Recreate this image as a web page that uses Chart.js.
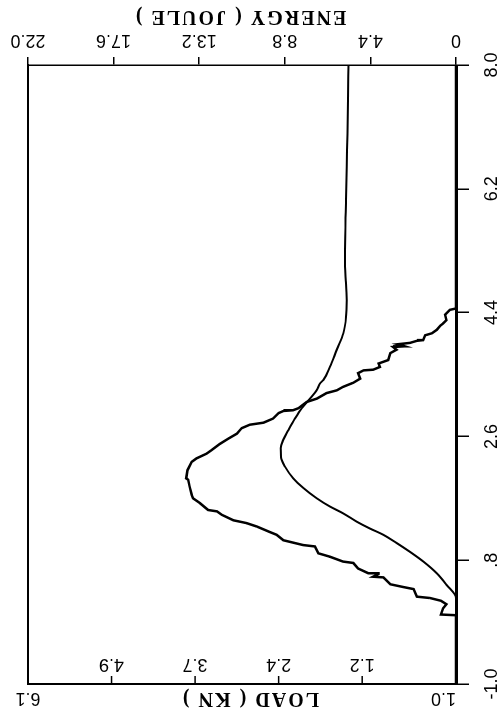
<!DOCTYPE html>
<html>
<head>
<meta charset="utf-8">
<script src="https://cdn.jsdelivr.net/npm/chart.js@4.4.0/dist/chart.umd.min.js"></script>
<style>
body { margin: 0; background: #fff; overflow: hidden; width: 501px; height: 717px; position: relative; }
/* o grafico e desenhado deitado e depois girado 90 graus */
#grafico { position: absolute; left: -108px; top: 108px; transform: rotate(-90deg); }
</style>
</head>
<body>
<canvas id="grafico" width="717" height="501"></canvas>
<script>
// curva de carga (KN) x tempo
const loadTime = [-1.0, 0.0, 0.01, 0.10, 0.16, 0.21, 0.25, 0.27, 0.38, 0.41, 0.45, 0.55, 0.56, 0.60, 0.61, 0.68, 0.76, 0.78, 0.85, 0.90,
  1.00, 1.02, 1.09, 1.17, 1.21, 1.29, 1.34, 1.38, 1.46, 1.51, 1.53, 1.63, 1.70, 1.75, 1.87, 1.97, 1.99, 2.11, 2.23, 2.28,
  2.35, 2.40, 2.49, 2.57, 2.64, 2.72, 2.77, 2.80, 2.86, 2.94, 2.97, 2.98, 3.01, 3.10, 3.15, 3.23, 3.27, 3.32, 3.38, 3.44,
  3.52, 3.56, 3.57, 3.61, 3.66, 3.71, 3.81, 3.86, 3.90, 3.91, 3.94, 3.96, 3.99, 4.00, 4.07, 4.10, 4.15, 4.21, 4.24, 4.29,
  4.37, 4.44, 4.46, 8.0];
const loadValue = [-0.15, -0.15, 0.07, 0.04, -0.01, 0.07, 0.23, 0.42, 0.47, 0.62, 0.81, 0.91, 1.06, 0.98, 1.13, 1.28, 1.35, 1.50, 1.69, 1.86,
  1.91, 2.08, 2.37, 2.47, 2.57, 2.76, 2.91, 3.10, 3.27, 3.34, 3.47, 3.59, 3.69, 3.71, 3.74, 3.76, 3.79, 3.77, 3.71, 3.64,
  3.49, 3.42, 3.30, 3.17, 3.05, 2.98, 2.86, 2.66, 2.52, 2.44, 2.37, 2.23, 2.15, 2.03, 1.88, 1.74, 1.59, 1.50, 1.35, 1.25,
  1.28, 1.20, 1.06, 0.96, 0.98, 0.84, 0.81, 0.72, 0.77, 0.60, 0.70, 0.52, 0.42, 0.33, 0.30, 0.20, 0.13, 0.08, 0.04, -0.01,
  0.01, -0.06, -0.15, -0.15];

// curva de energia (JOULE) x tempo
const energyTime = [-1.0, 0.25, 0.44, 0.61, 0.78, 0.92, 1.05, 1.17, 1.26, 1.36, 1.48, 1.58, 1.70, 1.85, 1.99, 2.16, 2.30, 2.43, 2.55,
  2.69, 2.86, 3.01, 3.15, 3.27, 3.37, 3.42, 3.61, 3.86, 4.10, 4.34, 4.58, 4.83, 5.07, 5.31, 6.04, 6.76, 7.49, 8.0];
const energyValue = [0, 0, 0.48, 0.99, 1.68, 2.36, 3.05, 3.74, 4.42, 5.10, 5.79, 6.48, 7.16, 7.85, 8.36, 8.79, 9.00, 9.01, 8.88,
  8.62, 8.28, 7.93, 7.50, 7.16, 6.99, 6.82, 6.48, 6.13, 5.79, 5.65, 5.62, 5.65, 5.71, 5.71, 5.65, 5.60, 5.55, 5.53];

// marcas dos eixos
const timeTicks = [-1.0, 0.8, 2.6, 4.4, 6.2, 8.0];
const timeLabels = ['-1.0', '.8', '2.6', '4.4', '6.2', '8.0'];
const loadTicks = [-0.15, 1.22, 2.44, 3.66, 4.88, 6.1];
const loadLabels = ['1.0', '1.2', '2.4', '3.7', '4.9', '6.1'];
const energyTicks = [0, 4.4, 8.8, 13.2, 17.6, 22.0];
const energyLabels = ['0', '4.4', '8.8', '13.2', '17.6', '22.0'];

const loadTitle = 'LOAD ( KN )';
const energyTitle = 'ENERGY ( JOULE )';

function pares(xs, ys) {
  return xs.map((x, i) => ({x: x, y: ys[i]}));
}

// textos e marcas que o Chart.js nao faz sozinho (rotulos da carga e titulos)
const textoExtra = {
  id: 'textoExtra',
  afterDraw(chart) {
    const ctx = chart.ctx;
    const yL = chart.scales.yL;
    const area = chart.chartArea;
    ctx.save();
    ctx.fillStyle = '#000';
    ctx.strokeStyle = '#000';
    ctx.lineWidth = 1.5;

    for (let i = 1; i < loadTicks.length - 1; i++) {
      const p = yL.getPixelForValue(loadTicks[i]);
      ctx.beginPath();
      ctx.moveTo(area.left, p);
      ctx.lineTo(area.left + 8, p);
      ctx.stroke();
    }

    ctx.font = '18px "Liberation Sans"';
    ctx.textBaseline = 'middle';
    loadTicks.forEach((v, i) => {
      const p = yL.getPixelForValue(v);
      let x = area.left + 20;
      let align = 'center';
      if (i == 0) { x = area.left - 14; align = 'left'; }
      if (i == loadTicks.length - 1) { x = area.left - 14; }
      ctx.save();
      ctx.translate(x, p);
      ctx.rotate(-Math.PI / 2);
      ctx.textAlign = align;
      ctx.fillText(loadLabels[i], 0, 0);
      ctx.restore();
    });

    const meio = (area.top + area.bottom) / 2;
    ctx.font = 'bold 20px "Liberation Serif"';
    ctx.letterSpacing = '2px';
    ctx.textAlign = 'center';

    ctx.save();
    ctx.translate(area.left - 14, meio + 8);
    ctx.rotate(-Math.PI / 2);
    ctx.fillText(loadTitle, 0, 0);
    ctx.restore();

    ctx.save();
    ctx.translate(chart.width - 16, meio - 2);
    ctx.rotate(-Math.PI / 2);
    ctx.fillText(energyTitle, 0, 0);
    ctx.restore();

    ctx.restore();
  }
};

const fonte = {family: 'Liberation Sans', size: 18};

const config = {
  type: 'line',
  data: {
    datasets: [
      {
        label: 'Load',
        data: pares(loadTime, loadValue),
        xAxisID: 'x',
        yAxisID: 'yL',
        borderColor: '#000',
        borderWidth: 2.5,
        pointRadius: 0,
        tension: 0
      },
      {
        label: 'Energy',
        data: pares(energyTime, energyValue),
        xAxisID: 'x',
        yAxisID: 'yR',
        borderColor: '#000',
        borderWidth: 2,
        pointRadius: 0,
        cubicInterpolationMode: 'monotone'
      }
    ]
  },
  options: {
    responsive: false,
    devicePixelRatio: 1,
    animation: false,
    layout: {padding: 0},
    plugins: {legend: {display: false}, tooltip: {enabled: false}},
    scales: {
      x: {
        type: 'linear', position: 'bottom', min: -1, max: 8,
        afterBuildTicks: s => { s.ticks = timeTicks.map(v => ({value: v})); },
        afterFit: s => { s.height = 45; },
        ticks: {autoSkip: false, maxRotation: 0, minRotation: 0, padding: 12.7, color: '#000', font: fonte,
          callback: (v, i) => timeLabels[i]},
        grid: {drawOnChartArea: false, drawTicks: true, tickLength: 13, color: '#000', lineWidth: 1.5},
        border: {display: true, color: '#000', width: 3}
      },
      xTop: {
        type: 'linear', position: 'top', min: -1, max: 8,
        afterFit: s => { s.height = 28; },
        ticks: {display: false},
        grid: {drawOnChartArea: false, drawTicks: false},
        border: {display: true, color: '#000', width: 2}
      },
      yL: {
        type: 'linear', position: 'left', min: -0.15, max: 6.1,
        afterBuildTicks: s => { s.ticks = loadTicks.map(v => ({value: v})); },
        afterFit: s => { s.width = 33; },
        ticks: {display: false},
        grid: {drawOnChartArea: false, drawTicks: false},
        border: {display: true, color: '#000', width: 2}
      },
      yR: {
        type: 'linear', position: 'right', min: 0, max: 22,
        afterBuildTicks: s => { s.ticks = energyTicks.map(v => ({value: v})); },
        afterFit: s => { s.width = 65; },
        ticks: {autoSkip: false, minRotation: 90, maxRotation: 90, crossAlign: 'center', padding: 0, color: '#000', font: fonte,
          callback: (v, i) => energyLabels[i]},
        grid: {drawOnChartArea: false, drawTicks: true, tickLength: 8, color: '#000', lineWidth: 1.5},
        border: {display: true, color: '#000', width: 1.5}
      }
    }
  },
  plugins: [textoExtra]
};

new Chart(document.getElementById('grafico'), config);
</script>
</body>
</html>
